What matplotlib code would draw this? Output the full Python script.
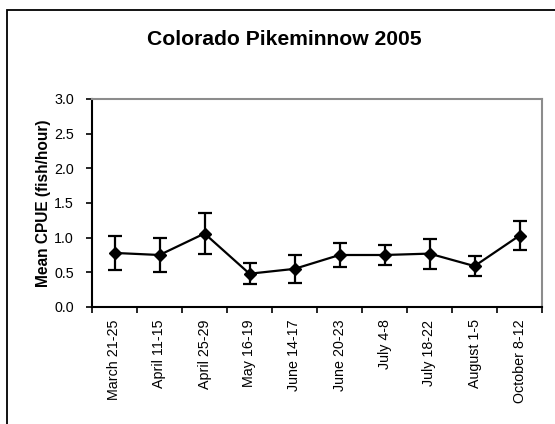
#!/usr/bin/env python3
"""Colorado Pikeminnow 2005: mean CPUE by sampling trip, with error bars."""

import matplotlib
matplotlib.use("Agg")
import matplotlib.pyplot as plt
from matplotlib.patches import Rectangle

plt.rcParams["font.family"] = ["Liberation Sans", "DejaVu Sans"]

TRIPS = ["March 21-25", "April 11-15", "April 25-29", "May 16-19", "June 14-17",
         "June 20-23", "July 4-8", "July 18-22", "August 1-5", "October 8-12"]
MEAN_CPUE = [0.78, 0.75, 1.06, 0.48, 0.55, 0.75, 0.75, 0.77, 0.59, 1.03]
ERR = [0.245, 0.245, 0.29, 0.15, 0.20, 0.175, 0.14, 0.215, 0.14, 0.21]

OUTPUT_FILE = "out.png"


def main():
    fig = plt.figure(figsize=(5.55, 4.24), dpi=100)
    ax = fig.add_axes([92 / 555, 1 - 307 / 424, 450 / 555, 208 / 424])

    # outer chart frame (only left/top edges fall inside the image)
    fig.patches.append(Rectangle((7 / 555, -0.05), 1.2, (424 - 9.5) / 424 + 0.05,
                                 transform=fig.transFigure, fill=False,
                                 edgecolor="black", linewidth=1.3, zorder=0))

    x = list(range(len(TRIPS)))
    ax.errorbar(x, MEAN_CPUE, yerr=ERR, color="black", lw=1.6, marker="D",
                ms=6.5, elinewidth=1.6, capsize=4.8, capthick=1.6)

    ax.set_xlim(-0.5, len(TRIPS) - 0.5)
    ax.set_ylim(0, 3.0)
    ax.set_yticks([0, 0.5, 1.0, 1.5, 2.0, 2.5, 3.0])
    ax.set_yticklabels([f"{v:.1f}" for v in [0, 0.5, 1.0, 1.5, 2.0, 2.5, 3.0]])
    ax.set_xticks(x)
    ax.set_xticklabels(TRIPS, rotation=90)
    ax.set_xticks([i - 0.5 for i in range(len(TRIPS) + 1)], minor=True)
    ax.tick_params(axis="x", which="major", length=0, pad=9, labelsize=10.3)
    ax.tick_params(axis="x", which="minor", length=4, width=1.2, direction="out")
    ax.tick_params(axis="y", length=4, width=1.2, pad=9, labelsize=10.3)

    for side in ("left", "bottom"):
        ax.spines[side].set_color("black")
        ax.spines[side].set_linewidth(1.5)
    for side in ("top", "right"):
        ax.spines[side].set_color("#8c8c8c")
        ax.spines[side].set_linewidth(1.5)

    ax.set_ylabel("Mean CPUE (fish/hour)", fontsize=11.2, fontweight="bold", labelpad=2)
    fig.text(0.512, 0.908, "Colorado Pikeminnow 2005", ha="center", va="center",
             fontsize=15.2, fontweight="bold")

    fig.savefig(OUTPUT_FILE, dpi=100)
    plt.close(fig)


if __name__ == "__main__":
    main()
